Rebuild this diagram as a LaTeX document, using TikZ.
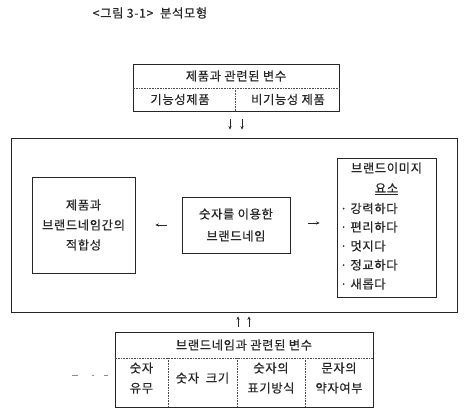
\documentclass[tikz,border=0pt]{standalone}
\usepackage{fontspec}
\newfontfamily\kr[LetterSpace=5,FakeBold=0.4]{Noto Sans CJK KR}
\usetikzlibrary{arrows.meta}
\begin{document}
\begin{tikzpicture}[x=1pt,y=-1pt,
  box/.style={draw=black!85, line width=0.8pt, inner sep=0pt, align=center,
    font=\kr\fontsize{12.3}{20}\selectfont, text=black!85},
  txt/.style={font=\kr\fontsize{12.3}{20}\selectfont, text=black!85, inner sep=0pt, align=center},
  cell/.style={draw=black!70, line width=0.6pt, densely dotted},
  arr/.style={draw=black!85, line width=0.6pt, -{Stealth[length=3.5pt,width=3.2pt]}},
  artifact/.style={draw=black!45, line width=0.6pt, dash pattern=on 6pt off 14pt on 2pt off 10pt on 4pt off 20pt},
]
\useasboundingbox (0,0) rectangle (464,414);

% title
\node[txt] (title) at (150,13) {<그림 3-1>\ \ 분석모형};

% top box
\node[box, minimum width=206pt, minimum height=47pt] (top) at (236,87.5) {};
\coordinate (tmid) at (0,88);
\coordinate (tv) at (235,0);
\draw[cell] (top.west |- tmid) -- (top.east |- tmid);
\draw[cell] (tv |- tmid) -- (tv |- top.south);
\node[txt] (topt) at (236,76) {제품과 관련된 변수};
\node[txt] (t1) at (180,99.5) {기능성제품};
\node[txt] (t2) at (288,99.5) {비기능성 제품};

% main box
\node[box, minimum width=446pt, minimum height=174pt] (main) at (234,225) {};

% inner boxes
\node[box, minimum width=103pt, minimum height=96pt] (lb) at (83.5,225) {제품과\\브랜드네임간의\\적합성};
\node[box, minimum width=108pt, minimum height=56pt, font=\kr\fontsize{12.3}{22}\selectfont] (cb) at (236,225) {숫자를 이용한\\브랜드네임};
\node[box, minimum width=99pt, minimum height=139pt] (rb) at (386.5,227.5) {};

\node[txt] (rh1) at (386.5,168) {브랜드이미지};
\node[txt] (rh2) at (386.5,189) {\underline{요소}};
\node[txt, anchor=west] (r1) at (340,208.5) {· 강력하다};
\node[txt, anchor=west] (r2) at (340,227) {· 편리하다};
\node[txt, anchor=west] (r3) at (340,246) {· 멋지다};
\node[txt, anchor=west] (r4) at (340,265) {· 정교하다};
\node[txt, anchor=west] (r5) at (340,284) {· 새롭다};

% horizontal arrows
\draw[arr, shorten <=15pt, shorten >=20pt] (cb.west) -- (cb.west -| lb.east);
\draw[arr, shorten <=18pt, shorten >=17pt] ([yshift=2pt]cb.east) -- ([yshift=2pt]cb.east -| rb.west);

% down arrows
\coordinate (d1) at (230,0);
\coordinate (d2) at (242,0);
\draw[arr, shorten <=8pt, shorten >=8pt] (d1 |- top.south) -- (d1 |- main.north);
\draw[arr, shorten <=8pt, shorten >=8pt] (d2 |- top.south) -- (d2 |- main.north);

% bottom box
\node[box, minimum width=258pt, minimum height=75pt] (bb) at (244,369.5) {};
\coordinate (bmid) at (0,358);
\coordinate (bv1) at (168,0);
\coordinate (bv2) at (237,0);
\coordinate (bv3) at (305,0);
\draw[cell] (bb.west |- bmid) -- (bb.east |- bmid);
\draw[cell] (bv1 |- bmid) -- (bv1 |- bb.south);
\draw[cell] (bv2 |- bmid) -- (bv2 |- bb.south);
\draw[cell] (bv3 |- bmid) -- (bv3 |- bb.south);
\node[txt] (bt) at (244,345) {브랜드네임과 관련된 변수};
\node[txt] (b1) at (141.5,378) {숫자\\유무};
\node[txt] (b2) at (202.5,378) {숫자\ \ 크기};
\node[txt] (b3) at (271,378) {숫자의\\표기방식};
\node[txt] (b4) at (339,378) {문자의\\약자여부};

% up arrows
\coordinate (u1) at (238,0);
\coordinate (u2) at (249,0);
\draw[arr, shorten <=5pt, shorten >=4pt] (u1 |- bb.north) -- (u1 |- main.south);
\draw[arr, shorten <=5pt, shorten >=4pt] (u2 |- bb.north) -- (u2 |- main.south);

% faint dashes left of the bottom box
\coordinate (art) at (72,375);
\draw[artifact, shorten >=4pt] (art) -- (art -| bb.west);
\end{tikzpicture}
\end{document}
